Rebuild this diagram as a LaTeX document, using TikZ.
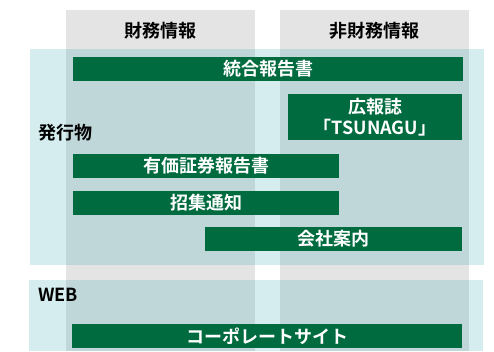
\documentclass[tikz,border=0pt]{standalone}
\usepackage{fontspec}
\setmainfont{Noto Sans CJK JP}[BoldFont={* Bold}]
\definecolor{colgray}{RGB}{228,228,228}
\definecolor{bandteal}{RGB}{64,173,178}
\definecolor{bargreen}{RGB}{0,107,63}
\tikzset{
  colbox/.style={fill=colgray, draw=none},
  bandbox/.style={fill=bandteal, fill opacity=0.22, draw=none},
  barbox/.style={fill=bargreen, draw=none, text=white, font=\bfseries\fontsize{18}{21}\selectfont, align=center, inner sep=0pt},
  headtxt/.style={font=\bfseries\fontsize{18}{21}\selectfont, text=black, inner sep=0pt},
  sidetxt/.style={font=\bfseries\fontsize{18}{21}\selectfont, text=black, anchor=west, inner sep=0pt}
}
\begin{document}
\begin{tikzpicture}[x=1pt,y=-1pt]
\useasboundingbox (0,0) rectangle (494,351);
% columns
\fill[colbox] (66,10) rectangle (255,351);
\fill[colbox] (280,10) rectangle (469,351);
\node[headtxt] (hfin) at (160.5,31) {財務情報};
\node[headtxt] (hnon) at (374.5,31) {非財務情報};
% bands
\fill[bandbox] (30,49) rectangle (484,265);
\fill[bandbox] (29,280) rectangle (483,351);
\node[sidetxt] (pub) at (38,133) {発行物};
\node[sidetxt] (web) at (38,295) {WEB};
% bars
\node[barbox, minimum width=390pt, minimum height=24pt] (ir) at (268,69) {統合報告書};
\node[barbox, minimum width=174pt, minimum height=46pt] (tsu) at (375,117) {広報誌\\「TSUNAGU」};
\node[barbox, minimum width=266pt, minimum height=24pt] (yuho) at (206,166) {有価証券報告書};
\node[barbox, minimum width=266pt, minimum height=24pt] (shoshu) at (206,203) {招集通知};
\node[barbox, minimum width=257pt, minimum height=24pt] (kaisha) at (333.5,239) {会社案内};
\node[barbox, minimum width=390pt, minimum height=24pt] (corp) at (267,336) {コーポレートサイト};
\end{tikzpicture}
\end{document}
